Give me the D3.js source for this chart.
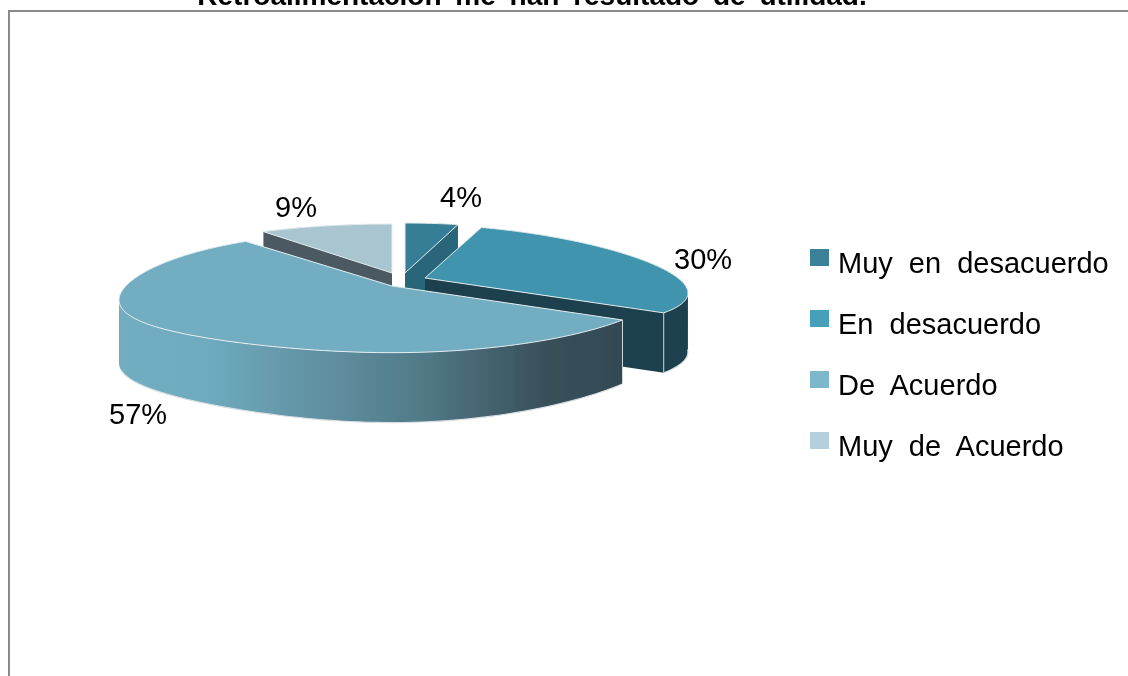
<!DOCTYPE html>
<html lang="es"><head><meta charset="utf-8">
<script src="https://cdnjs.cloudflare.com/ajax/libs/d3/7.8.5/d3.min.js"></script>
<style>html,body{margin:0;background:#fff}svg{display:block}text{font-family:"Liberation Sans",Arial,sans-serif;fill:#000}</style>
</head><body><div id="c"></div>
<script>
const titleText = "Retroalimentación me han resultado de utilidad.";
const categories = ["Muy en desacuerdo", "En desacuerdo", "De Acuerdo", "Muy de Acuerdo"];
const values = [4, 30, 57, 9];
const topColors = ["#357e95", "#3f94ae", "#72adc1", "#a9c5d0"];
const wallColors = ["#2b6679", "#1b414d", "url(#wallGrad)", "#4b5a62"];
const legendColors = ["#3a8299", "#47a0b9", "#7cb7cc", "#b3d0dc"];

const W = 1128, H = 676;
// per-slice pie geometry: the slices are exploded and the perspective is uneven
const geom = [
  {cx:405, cy:273, rx:213, ry:50, px:0,   py:0,  tilt:0, skew:0,  depth:64},
  {cx:425, cy:278, rx:260, ry:54, px:.15, py:0,  tilt:7, skew:0,  depth:59},
  {cx:392, cy:286, rx:273, ry:60, px:0,   py:.1, tilt:0, skew:14, depth:63},
  {cx:392, cy:273, rx:240, ry:49, px:0,   py:0,  tilt:0, skew:0,  depth:64}
];
const labelPos = [[440,207],[674,269],[109,424],[275,217]];

const svg = d3.select("#c").append("svg").attr("width",W).attr("height",H);
const defs = svg.append("defs");
const grad = defs.append("linearGradient").attr("id","wallGrad").attr("gradientUnits","userSpaceOnUse")
  .attr("x1",119).attr("x2",620).attr("y1",0).attr("y2",0);
[[0,"#72adc1"],[.18,"#6faabe"],[.42,"#5f8f9f"],[.6,"#527a88"],[.85,"#38505a"],[1,"#334a52"]]
  .forEach(s=>grad.append("stop").attr("offset",s[0]).attr("stop-color",s[1]));
defs.append("filter").attr("id","soft").append("feGaussianBlur").attr("stdDeviation",.55);
defs.append("filter").attr("id","softText").append("feGaussianBlur").attr("stdDeviation",.4);

// frame
svg.append("path").attr("d",`M9 ${H}V11H${W}`).attr("fill","none").attr("stroke","#8a8a8a").attr("stroke-width",2);

const texts = svg.append("g").attr("filter","url(#softText)");
texts.append("text").attr("x",532).attr("y",5).attr("text-anchor","middle")
  .attr("font-size",28).attr("font-weight","bold").attr("word-spacing",6).text(titleText);

const pie = d3.pie().sort(null).value(d=>d)(values);
const project = (g,a) => {
  const u=Math.sin(a), v=Math.cos(a);
  return {x:g.cx+g.rx*u/(1+g.px*v), y:g.cy-g.ry*v/(1+g.py*v)+g.tilt*u+g.skew*Math.pow(Math.max(0,-u),3), v};
};
const line = d3.line().x(d=>d.x).y(d=>d.y);
const chart = svg.append("g").attr("filter","url(#soft)");

// painter's order: back slices first
[3,0,1,2].forEach(i=>{
  const g=geom[i], s=pie[i];
  const n=Math.max(6,Math.ceil((s.endAngle-s.startAngle)*30));
  const apex={x:g.cx,y:g.cy,v:0};
  const arc=d3.range(n+1).map(k=>project(g,s.startAngle+(s.endAngle-s.startAngle)*k/n));
  const outline=[apex,...arc];
  const drop=p=>({x:p.x,y:p.y+g.depth*(1-.11*p.v*p.v*p.v)});
  // walls: one path of extruded quads, all wound the same way so nothing cancels
  const quads=outline.map((p,k)=>{
    const q=[p,outline[(k+1)%outline.length],drop(outline[(k+1)%outline.length]),drop(p)];
    return d3.polygonArea(q.map(o=>[o.x,o.y]))<0 ? q.reverse() : q;
  });
  chart.append("path").attr("d",quads.map(q=>line(q)+"Z").join(""))
    .attr("fill",wallColors[i]).attr("fill-rule","nonzero");
  // lit lower rim
  chart.append("path").attr("d",line(arc.filter(p=>p.v<-.1).map(drop)))
    .attr("fill","none").attr("stroke","#d9dfe1").attr("stroke-width",1.2);
  // top face
  chart.append("path").attr("d",line(outline)+"Z")
    .attr("fill",topColors[i]).attr("stroke","#e4edf0").attr("stroke-width",1).attr("stroke-linejoin","round");
  // highlighted corner edges on the near side
  [arc[0],arc[n]].filter(p=>p.v<0).forEach(p=>{
    chart.append("path").attr("d",line([p,drop(p)])).attr("fill","none").attr("stroke","#cfd8db").attr("stroke-width",1);
  });
});

// percent labels
texts.append("g").selectAll("text").data(values).join("text")
  .attr("x",(d,i)=>labelPos[i][0]).attr("y",(d,i)=>labelPos[i][1])
  .attr("font-size",29).text(d=>d+"%");

// legend
const ly=d3.scalePoint().domain(categories).range([273,456]);
const leg=svg.append("g").selectAll("g").data(categories).join("g");
leg.append("rect").attr("x",810).attr("y",d=>ly(d)-24).attr("width",19).attr("height",17)
  .attr("fill",(d,i)=>legendColors[i]).attr("filter","url(#softText)");
leg.append("text").attr("x",838).attr("y",d=>ly(d)).attr("font-size",29).attr("word-spacing",8)
  .attr("filter","url(#softText)").text(d=>d);
</script></body></html>
